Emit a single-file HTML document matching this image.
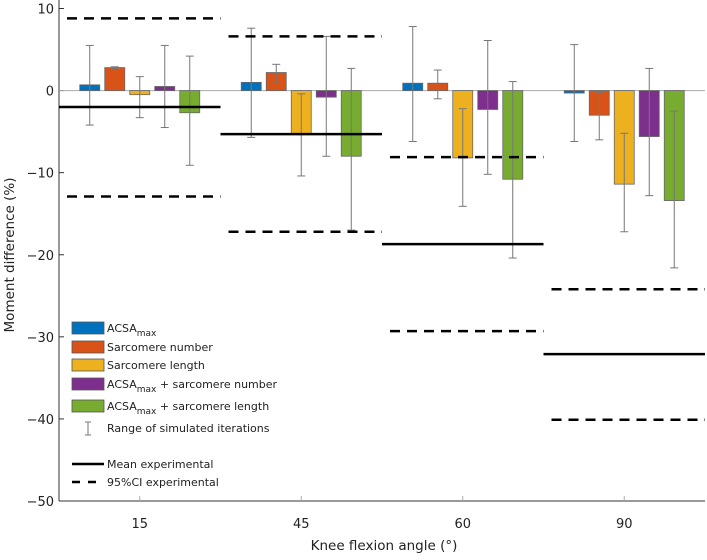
<!DOCTYPE html>
<html><head><meta charset="utf-8"><style>
body{margin:0;background:#fff;font-family:"DejaVu Sans","Liberation Sans",sans-serif}
svg text{fill:#222}
</style></head><body>
<svg id="c" width="707" height="556" xmlns="http://www.w3.org/2000/svg"></svg>
<script>
const categories=["15","45","60","90"];
const seriesNames=["ACSAmax","Sarcomere number","Sarcomere length","ACSAmax + sarcomere number","ACSAmax + sarcomere length"];
const colors=["#0072BD","#D95319","#EDB120","#7E2F8E","#77AC30"];
const barValues=[[0.7,2.8,-0.5,0.5,-2.7],[1.0,2.2,-5.3,-0.8,-8.0],[0.9,0.9,-8.2,-2.3,-10.8],[-0.3,-3.0,-11.4,-5.6,-13.4]];
const errLow=[[-4.2,2.7,-3.3,-4.5,-9.1],[-5.7,0.9,-10.4,-8.0,-17.0],[-6.2,-1.0,-14.1,-10.2,-20.4],[-6.2,-6.0,-17.2,-12.8,-21.6]];
const errHigh=[[5.5,2.9,1.7,5.5,4.2],[7.6,3.2,-0.4,6.6,2.7],[7.8,2.5,-2.2,6.1,1.1],[5.6,-0.2,-5.2,2.7,-2.5]];
const meanExp=[-2.0,-5.3,-18.7,-32.1];
const ciLow=[-12.9,-17.2,-29.3,-40.1];
const ciHigh=[8.8,6.6,-8.1,-24.2];
const yTicks=[10,0,-10,-20,-30,-40,-50];
const yTickLabels=["10","0","\u221210","\u221220","\u221230","\u221240","\u221250"];

const svg=document.getElementById('c');const NS="http://www.w3.org/2000/svg";
const X0=59,X1=705,Ytop=8.5,Ybot=501;
const y=v=>Ytop+(10-v)*(Ybot-Ytop)/60;
const gw=(X1-X0)/categories.length;
const gx=i=>X0+gw*(i+0.5);
function el(t,a,p){const e=document.createElementNS(NS,t);for(const k in a)e.setAttribute(k,a[k]);(p||svg).appendChild(e);return e;}
let ax=el('line',{x1:X0,y1:0,x2:X0,y2:Ybot,stroke:'#333','stroke-width':1});

ax=el('line',{x1:X0,y1:Ybot,x2:X1,y2:Ybot,stroke:'#333','stroke-width':1});

yTicks.forEach((v,i)=>{
  el('line',{x1:X0,y1:y(v),x2:X0+5,y2:y(v),stroke:'#333'});
  const t=el('text',{x:X0-5,y:y(v)+5,'text-anchor':'end','font-size':13});t.textContent=yTickLabels[i];
  
});
const zl=el('line',{x1:X0,y1:y(0),x2:X1,y2:y(0),stroke:'#aaa','stroke-width':1});

categories.forEach((c,i)=>{
  el('line',{x1:gx(i),y1:Ybot,x2:gx(i),y2:Ybot-5,stroke:'#aaa'});
  const t=el('text',{x:gx(i),y:Ybot+27,'text-anchor':'middle','font-size':13});t.textContent=c;
  
  barValues[i].forEach((v,j)=>{
    const cx=gx(i)+(j-2)*25;
    const r=el('rect',{x:cx-10,y:Math.min(y(v),y(0)),width:20,height:Math.max(1,Math.abs(y(v)-y(0))),fill:colors[j],stroke:'#666','stroke-width':0.8});
    
    const g=el('g',{stroke:'#777','stroke-width':1});
    
    el('line',{x1:cx,y1:y(errLow[i][j]),x2:cx,y2:y(errHigh[i][j])},g);
    el('line',{x1:cx-4,y1:y(errLow[i][j]),x2:cx+4,y2:y(errLow[i][j])},g);
    el('line',{x1:cx-4,y1:y(errHigh[i][j]),x2:cx+4,y2:y(errHigh[i][j])},g);
  });
  const xa=X0+gw*i,xb=X0+gw*(i+1);
  const m=el('line',{x1:xa,y1:y(meanExp[i]),x2:xb,y2:y(meanExp[i]),stroke:'#000','stroke-width':2.5});
  
  [ciLow[i],ciHigh[i]].forEach(v=>{
    const d=el('line',{x1:xa+8,y1:y(v),x2:xb,y2:y(v),stroke:'#000','stroke-width':2.5,'stroke-dasharray':'10 7'});
    
  });
});
let t=el('text',{x:384,y:550,'text-anchor':'middle','font-size':13.5});t.textContent="Knee flexion angle (°)";

t=el('text',{x:0,y:0,'text-anchor':'middle','font-size':13.5,transform:'translate(14,255) rotate(-90)'});t.textContent="Moment difference (%)";

const lg=el('g',{});
const rowsY=[328,347,365,384,406];
const labels=[["ACSA","max",""],["Sarcomere number"],["Sarcomere length"],["ACSA","max"," + sarcomere number"],["ACSA","max"," + sarcomere length"]];
rowsY.forEach((ry,j)=>{
  el('rect',{x:72,y:ry-6,width:32,height:12,fill:colors[j],stroke:'#555','stroke-width':0.8},lg);
  const tx=el('text',{x:107,y:ry+4,'font-size':11},lg);
  
  if(labels[j].length===1)tx.textContent=labels[j][0];
  else{tx.appendChild(document.createTextNode(labels[j][0]));
    const s=el('tspan',{dy:4,'font-size':9},tx);s.textContent=labels[j][1];
    const r=el('tspan',{dy:-4},tx);r.textContent=labels[j][2];}
});
el('line',{x1:88,y1:422,x2:88,y2:435,stroke:'#777'},lg);
el('line',{x1:85,y1:422,x2:91,y2:422,stroke:'#777'},lg);
el('line',{x1:85,y1:435,x2:91,y2:435,stroke:'#777'},lg);
t=el('text',{x:107,y:432,'font-size':11},lg);t.textContent="Range of simulated iterations";
el('line',{x1:72,y1:464,x2:104,y2:464,stroke:'#000','stroke-width':2.5},lg);
t=el('text',{x:107,y:468,'font-size':11},lg);t.textContent="Mean experimental";
el('line',{x1:72,y1:482,x2:104,y2:482,stroke:'#000','stroke-width':2.5,'stroke-dasharray':'8 8'},lg);
t=el('text',{x:107,y:486,'font-size':11},lg);t.textContent="95%CI experimental";
</script>
</body></html>
